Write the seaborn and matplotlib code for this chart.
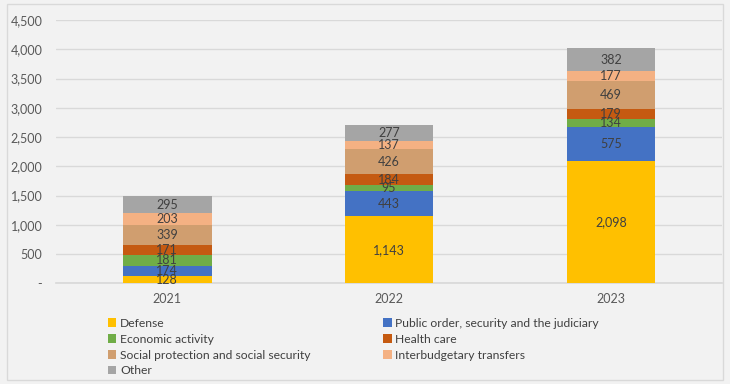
import numpy as np
import pandas as pd
import matplotlib
matplotlib.use("Agg")
import matplotlib.pyplot as plt
from matplotlib.patches import Patch, Rectangle
from matplotlib.ticker import FuncFormatter
import seaborn as sns

years = ["2021", "2022", "2023"]
categories = [
    "Defense",
    "Public order, security and the judiciary",
    "Economic activity",
    "Health care",
    "Social protection and social security",
    "Interbudgetary transfers",
    "Other",
]
defense = [128, 1143, 2098]
public_order = [174, 443, 575]
economic = [181, 95, 134]
health = [171, 184, 179]
social = [339, 426, 469]
interbudget = [203, 137, 177]
other = [295, 277, 382]

colors = ["#FFC000", "#4472C4", "#70AD47", "#C55A11", "#D09E6F", "#F4B183", "#A5A5A5"]


def main():
    series = [defense, public_order, economic, health, social, interbudget, other]
    df = pd.DataFrame({"year": years})
    for name, vals in zip(categories, series):
        df[name] = vals
    cum = df[categories].cumsum(axis=1)

    sns.set_theme(style="white")
    plt.rcParams["font.family"] = ["Lato", "DejaVu Sans"]
    bg = "#F2F2F2"

    fig = plt.figure(figsize=(7.3, 3.84), dpi=100, facecolor=bg)
    ax = fig.add_axes([0.077, 0.262, 0.912, 0.686])
    ax.set_facecolor(bg)

    # stacked bars: draw cumulative totals from the top segment downwards
    for name, col in reversed(list(zip(categories, colors))):
        sns.barplot(x=df["year"], y=cum[name], color=col, width=0.4,
                    saturation=1, ax=ax, linewidth=0, zorder=3)

    for i in range(len(years)):
        for name in categories:
            v = df.loc[i, name]
            top = cum.loc[i, name]
            ax.text(i, top - v / 2, f"{v:,}", ha="center", va="center",
                    fontsize=9, color="#404040", zorder=5)

    ax.set_ylim(0, 4500)
    ax.set_yticks(np.arange(0, 4501, 500))
    ax.yaxis.set_major_formatter(FuncFormatter(lambda v, p: "-" if v == 0 else f"{int(v):,}"))
    ax.yaxis.grid(True, color="#D9D9D9", linewidth=1, zorder=0)
    ax.set_axisbelow(True)
    ax.set_xlabel("")
    ax.set_ylabel("")
    ax.set_xlim(-0.5, 2.5)
    ax.tick_params(axis="both", length=0, labelsize=9, colors="#595959")
    ax.tick_params(axis="y", pad=10)
    ax.tick_params(axis="x", pad=7)
    for s in ["top", "right", "left"]:
        ax.spines[s].set_visible(False)
    ax.spines["bottom"].set_color("#D9D9D9")

    handles = [Patch(facecolor=c, edgecolor="none") for c in colors]
    order = [0, 2, 4, 6, 1, 3, 5]
    fig.legend([handles[k] for k in order], [categories[k] for k in order],
               ncol=2, loc="upper left", bbox_to_anchor=(0.148, 0.172),
               frameon=False, fontsize=8.7, handlelength=0.7, handleheight=0.7,
               handletextpad=0.3, labelspacing=0.4, columnspacing=6.0,
               labelcolor="#404040", borderaxespad=0, borderpad=0)

    fig.patches.append(Rectangle((0.009, 0.01), 0.982, 0.98, transform=fig.transFigure,
                                 fill=False, edgecolor="#D9D9D9", linewidth=1))

    fig.savefig("out.png", dpi=100, facecolor=bg)
    plt.close(fig)


if __name__ == "__main__":
    main()
